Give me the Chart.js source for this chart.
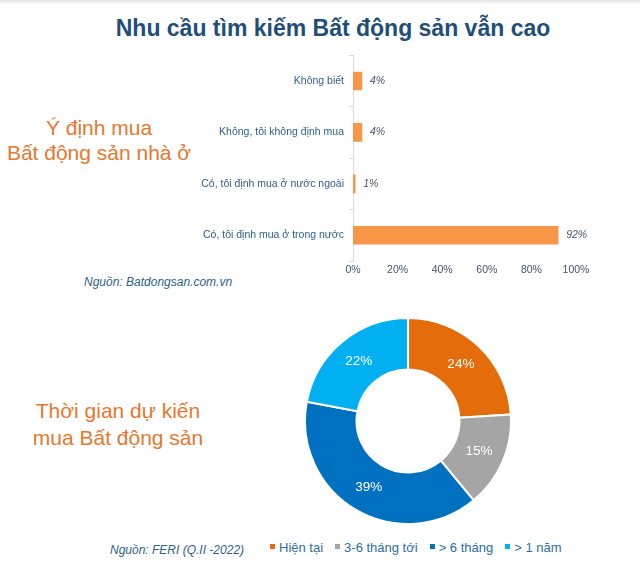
<!DOCTYPE html>
<html>
<head>
<meta charset="utf-8">
<script src="https://cdn.jsdelivr.net/npm/chart.js@4"></script>
<style>
  body { margin: 0; width: 640px; height: 574px; background: #fff; position: relative; overflow: hidden; font-family: Arial, "Liberation Sans", sans-serif; }
  .abs { position: absolute; }
  #shade { left: 0; top: 0; width: 640px; height: 5px; background: linear-gradient(#e6e6e6, #ffffff); }
  #title { left: 0; width: 666px; top: 15px; text-align: center; font: bold 23px "Liberation Sans Narrow", "Liberation Sans", Arial, sans-serif; color: #1f4e79; }
  .side { color: #e8772e; font-size: 21px; text-align: center; line-height: 25px; }
  .src { color: #2e5f8a; font-style: italic; font-size: 12px; }
  #legend { left: 270px; top: 540px; font-size: 13px; color: #2e6da4; white-space: nowrap; }
  #legend span.item { margin-right: 12px; }
  #legend span.box { display: inline-block; width: 5px; height: 5px; margin-right: 4px; vertical-align: middle; position: relative; top: -2px; }
</style>
</head>
<body>
<div id="shade" class="abs"></div>
<div id="title" class="abs">Nhu cầu tìm kiếm Bất động sản vẫn cao</div>

<div class="abs side" style="left:0;width:198px;top:115px;">Ý định mua<br>Bất động sản nhà ở</div>
<div class="abs src" style="left:84px;top:275px;">Nguồn: Batdongsan.com.vn</div>

<div class="abs" style="left:180px;top:44px;width:430px;height:236px;"><canvas id="bar"></canvas></div>

<div class="abs side" style="left:19px;width:198px;top:397px;line-height:27px;">Thời gian dự kiến<br>mua Bất động sản</div>
<div class="abs src" style="left:110px;top:543px;">Nguồn: FERI (Q.II -2022)</div>

<div class="abs" style="left:304px;top:317px;width:208px;height:208px;"><canvas id="donut"></canvas></div>
<div id="legend" class="abs"></div>

<script>
// 横棒グラフのデータ（購入意向）
const intentLabels = ['Không biết', 'Không, tôi không định mua', 'Có, tôi định mua ở nước ngoài', 'Có, tôi định mua ở trong nước'];
const intentValues = [4, 4, 1, 92];
const xTicks = [0, 20, 40, 60, 80, 100];

// ドーナツのデータ（購入予定時期）
const timeLabels = ['Hiện tại', '3-6 tháng tới', '> 6 tháng', '> 1 năm'];
const timeValues = [24, 15, 39, 22];
const timeColors = ['#e46c0a', '#a5a5a5', '#0070c0', '#00b0f0'];

// 棒の右にラベルを描くプラグイン
const barValueLabels = {
    id: 'barValueLabels',
    afterDatasetsDraw(chart) {
        const ctx = chart.ctx;
        const meta = chart.getDatasetMeta(0);
        ctx.save();
        ctx.font = 'italic 10.5px Arial, "Liberation Sans", sans-serif';
        ctx.fillStyle = '#44546a';
        ctx.textBaseline = 'middle';
        meta.data.forEach((bar, i) => {
            ctx.fillText(intentValues[i] + '%', bar.x + 8, bar.y);
        });
        ctx.restore();
    }
};

new Chart(document.getElementById('bar'), {
    type: 'bar',
    data: {
        labels: intentLabels,
        datasets: [{
            data: intentValues,
            backgroundColor: '#f79646',
            barThickness: 18
        }]
    },
    options: {
        indexAxis: 'y',
        responsive: true,
        maintainAspectRatio: false,
        animation: false,
        layout: { autoPadding: false, padding: { top: 3, right: 34, left: 0, bottom: 0 } },
        plugins: { legend: { display: false }, tooltip: { enabled: false } },
        scales: {
            x: {
                min: 0, max: 100,
                afterBuildTicks: s => { s.ticks = xTicks.map(v => ({ value: v })); },
                afterFit: s => { s.height = 19; },
                grid: { display: false, drawTicks: false },
                border: { display: false },
                ticks: { callback: v => v + '%', color: '#44546a', font: { size: 10.5 }, padding: 3 }
            },
            y: {
                afterFit: s => { s.width = 173; },
                grid: { offset: true, drawOnChartArea: false, drawTicks: true, tickLength: 4, color: '#d9d9d9' },
                border: { display: true, color: '#d9d9d9' },
                ticks: { color: '#2e5f8a', font: { size: 10.5 }, padding: 5 }
            }
        }
    },
    plugins: [barValueLabels]
});

// ドーナツ内にパーセントを描くプラグイン
const donutLabels = {
    id: 'donutLabels',
    afterDatasetsDraw(chart) {
        const ctx = chart.ctx;
        const meta = chart.getDatasetMeta(0);
        ctx.save();
        ctx.font = '13.5px Arial, "Liberation Sans", sans-serif';
        ctx.fillStyle = '#ffffff';
        ctx.textAlign = 'center';
        ctx.textBaseline = 'middle';
        meta.data.forEach((arc, i) => {
            const p = arc.tooltipPosition();
            ctx.fillText(timeValues[i] + '%', p.x, p.y);
        });
        ctx.restore();
    }
};

new Chart(document.getElementById('donut'), {
    type: 'doughnut',
    data: {
        labels: timeLabels,
        datasets: [{
            data: timeValues,
            backgroundColor: timeColors,
            borderColor: '#ffffff',
            borderWidth: 2
        }]
    },
    options: {
        responsive: true,
        maintainAspectRatio: false,
        animation: false,
        cutout: '50%',
        plugins: { legend: { display: false }, tooltip: { enabled: false } }
    },
    plugins: [donutLabels]
});

// 凡例（HTML）
const legendEl = document.getElementById('legend');
timeLabels.forEach((label, i) => {
    const item = document.createElement('span');
    item.className = 'item';
    item.innerHTML = '<span class="box" style="background:' + timeColors[i] + '"></span>' + label;
    legendEl.appendChild(item);
});
</script>
</body>
</html>
